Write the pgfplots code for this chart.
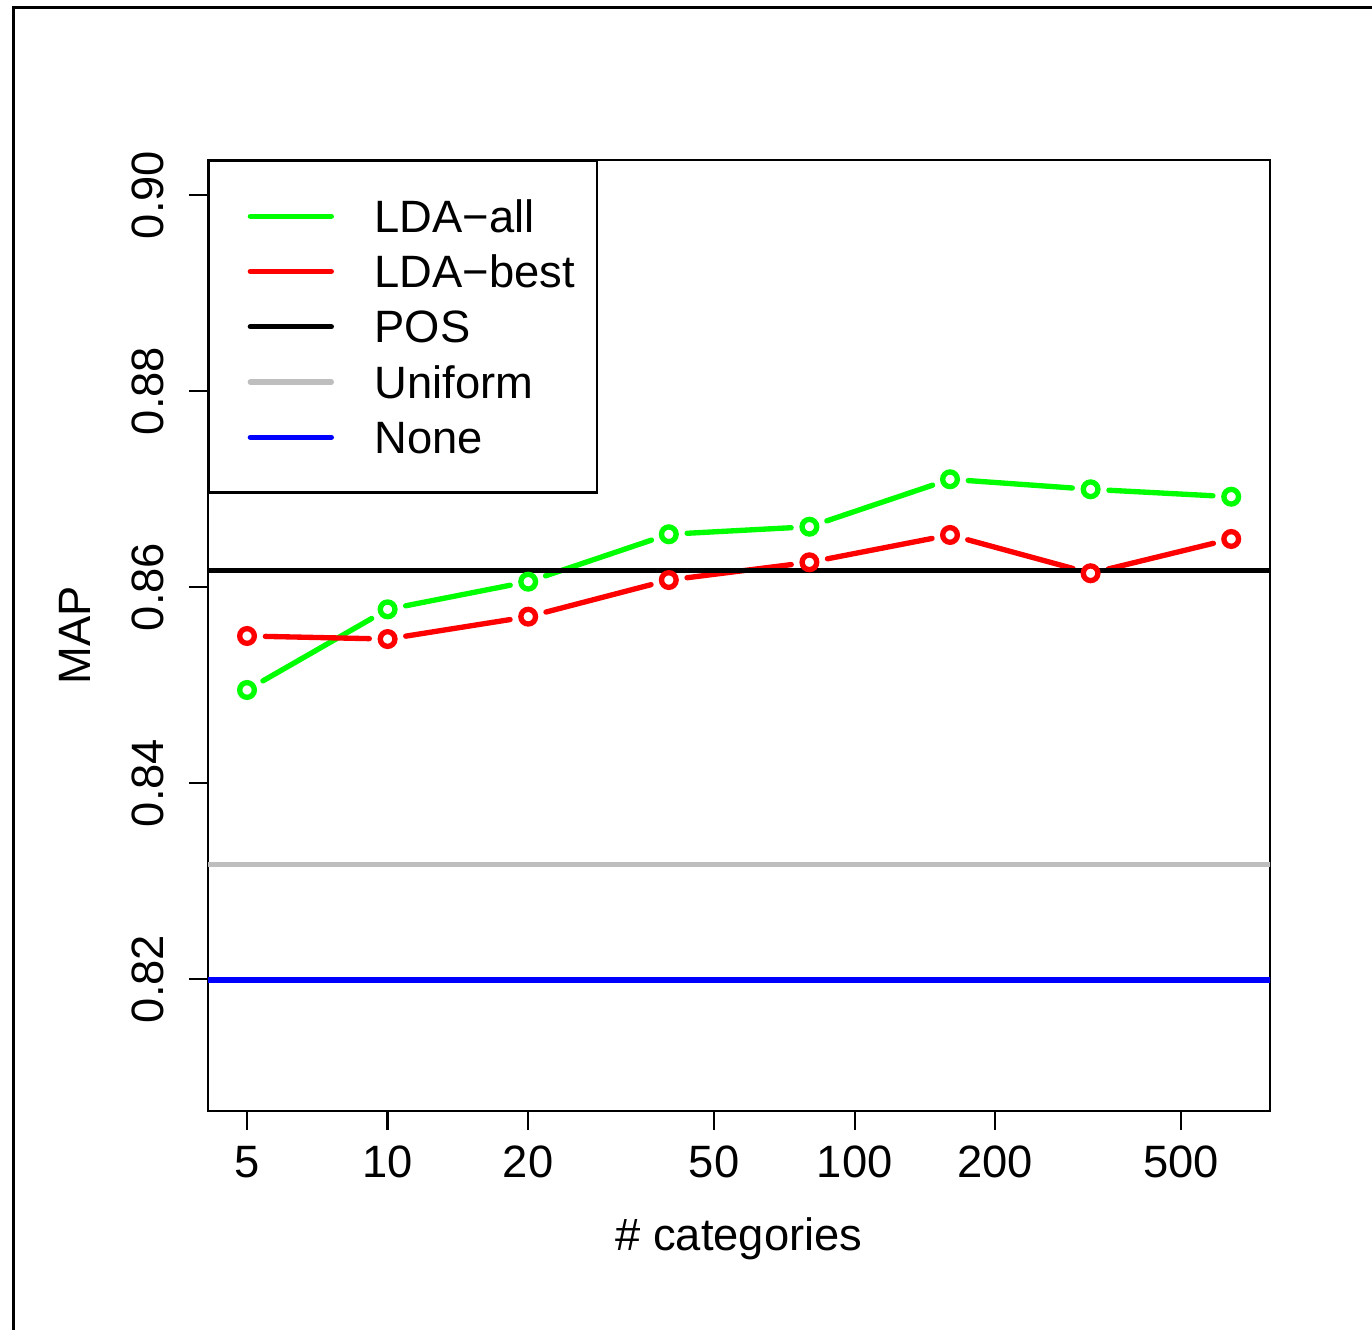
\documentclass[border=0pt]{standalone}
\usepackage{pgfplots}
\pgfplotsset{compat=1.18}
\usepackage{fontspec}
\setmainfont{Liberation Sans}
\definecolor{rgreen}{RGB}{0,255,0}
\definecolor{rred}{RGB}{255,0,0}
\definecolor{rblue}{RGB}{0,0,255}
\definecolor{rgray}{RGB}{190,190,190}
\newcommand{\cf}{\fontsize{13.6pt}{16pt}\selectfont}
\pgfplotstableread{
x y
5 0.84949
10 0.85772
20 0.86054
40 0.86538
80 0.86615
160 0.87099
320 0.86997
640 0.86921
}\ldaall
\pgfplotstableread{
x y
5 0.85500
10 0.85469
20 0.85697
40 0.86071
80 0.86252
160 0.86531
320 0.86140
640 0.86490
}\ldabest
\begin{document}
\begin{tikzpicture}
\useasboundingbox (-62.4pt,-65.4pt) rectangle (349.2pt,333.3pt);
\begin{axis}[
  scale only axis,
  width=318.6pt, height=285.3pt,
  xmode=log,
  xmin=4.125, xmax=775,
  ymin=0.806531, ymax=0.903571,
  xtick={5,10,20,50,100,200,500},
  xticklabels={5,10,20,50,100,200,500},
  ytick={0.82,0.84,0.86,0.88,0.90},
  yticklabels={0.82,0.84,0.86,0.88,0.90},
  xminorticks=false, yminorticks=false,
  xtick pos=bottom, ytick pos=left,
  tick align=outside,
  major tick length=5.7pt,
  tick style={line width=0.7pt, black},
  axis line style={line width=0.7pt},
  /pgf/number format/assume math mode=true,
  ticklabel style={font=\cf},
  xticklabel style={anchor=base},
  yticklabel style={rotate=90, anchor=base},
  xticklabel shift=14.2pt,
  yticklabel shift=7.8pt,
  xlabel={\# categories},
  ylabel={MAP},
  every axis x label/.style={at={(axis description cs:0.5,-0.14687)}, anchor=base, font=\cf},
  every axis y label/.style={at={(axis description cs:-0.11111,0.5)}, rotate=90, anchor=base, font=\cf},
  legend image code/.code={\path (-11.55pt,0pt); \draw[#1, line cap=round, shorten <=0pt, shorten >=0pt] (0pt,0pt) -- (24.3pt,0pt);},
  legend style={at={(0,1)}, anchor=north west, draw=black, line width=0.7pt, fill=white,
    inner xsep=0pt, inner ysep=11.65pt, row sep=6.84pt, column sep=12.15pt,
    font=\cf,
    nodes={inner sep=0pt, text height=9.74pt, text depth=0pt, text width=66.7pt, align=left, anchor=west}},
  legend cell align=left,
  seg/.style={line width=1.6pt, line cap=round, shorten <=5.5pt, shorten >=5.5pt},
]
% LDA-all segments
\addplot[rgreen, seg] coordinates {(5,0.84949) (10,0.85772)};
\addlegendentry{LDA−all}
\addplot[rgreen, seg, forget plot] coordinates {(10,0.85772) (20,0.86054)};
\addplot[rgreen, seg, forget plot] coordinates {(20,0.86054) (40,0.86538)};
\addplot[rgreen, seg, forget plot] coordinates {(40,0.86538) (80,0.86615)};
\addplot[rgreen, seg, forget plot] coordinates {(80,0.86615) (160,0.87099)};
\addplot[rgreen, seg, forget plot] coordinates {(160,0.87099) (320,0.86997)};
\addplot[rgreen, seg, forget plot] coordinates {(320,0.86997) (640,0.86921)};
% LDA-best segments
\addplot[rred, seg] coordinates {(5,0.85500) (10,0.85469)};
\addlegendentry{LDA−best}
\addplot[rred, seg, forget plot] coordinates {(10,0.85469) (20,0.85697)};
\addplot[rred, seg, forget plot] coordinates {(20,0.85697) (40,0.86071)};
\addplot[rred, seg, forget plot] coordinates {(40,0.86071) (80,0.86252)};
\addplot[rred, seg, forget plot] coordinates {(80,0.86252) (160,0.86531)};
\addplot[rred, seg, forget plot] coordinates {(160,0.86531) (320,0.86140)};
\addplot[rred, seg, forget plot] coordinates {(320,0.86140) (640,0.86490)};
% markers
\addplot[only marks, line width=1.6pt, mark=*, mark size=2.2pt, mark options={draw=rgreen, fill=white, line width=1.6pt}, forget plot] table {\ldaall};
\addplot[only marks, line width=1.6pt, mark=*, mark size=2.2pt, mark options={draw=rred, fill=white, line width=1.6pt}, forget plot] table {\ldabest};
% reference lines
\addplot[black, line width=1.6pt] coordinates {(3,0.86168) (1000,0.86168)};
\addlegendentry{POS}
\addplot[rgray, line width=1.6pt] coordinates {(3,0.83171) (1000,0.83171)};
\addlegendentry{Uniform}
\addplot[rblue, line width=1.6pt] coordinates {(3,0.8199) (1000,0.8199)};
\addlegendentry{None}
\end{axis}
\draw[line width=0.9pt] (-58.3pt,-70pt) -- (-58.3pt,330.9pt) -- (355pt,330.9pt);
\end{tikzpicture}
\end{document}
